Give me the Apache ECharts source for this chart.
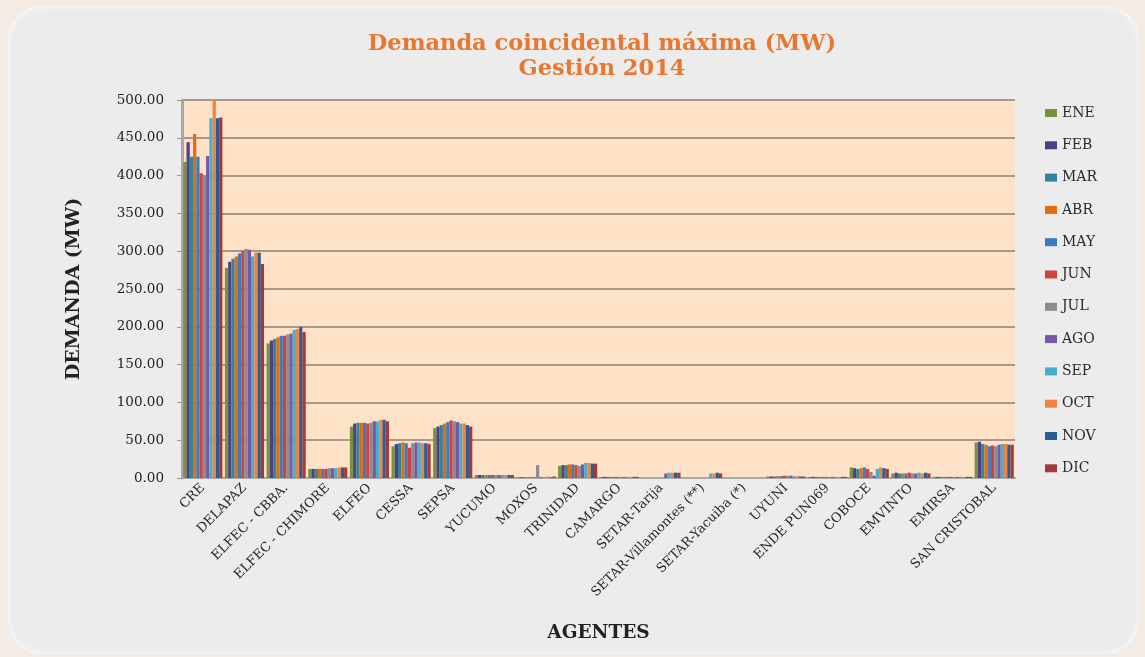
<!DOCTYPE html>
<html>
<head>
<meta charset="utf-8">
<script src="https://cdn.jsdelivr.net/npm/echarts@6/dist/echarts.min.js"></script>
<style>
    html, body { margin: 0; padding: 0; background: #f4ece4; }
    #card { position: absolute; left: 8px; top: 6px; width: 1131px; height: 648px;
        background: #ececec; border-radius: 34px; box-shadow: 0 0 6px #fff inset; }
    #chart { position: absolute; left: 0; top: 0; width: 1145px; height: 657px; }
</style>
</head>
<body>
<div id="card"></div>
<div id="chart"></div>
<script>
    const agentes = ['CRE', 'DELAPAZ', 'ELFEC - CBBA.', 'ELFEC - CHIMORE', 'ELFEO', 'CESSA', 'SEPSA',
        'YUCUMO', 'MOXOS', 'TRINIDAD', 'CAMARGO', 'SETAR-Tarija', 'SETAR-Villamontes (**)',
        'SETAR-Yacuiba (*)', 'UYUNI', 'ENDE PUN069', 'COBOCE', 'EMVINTO', 'EMIRSA', 'SAN CRISTOBAL'];
    const meses = ['ENE', 'FEB', 'MAR', 'ABR', 'MAY', 'JUN', 'JUL', 'AGO', 'SEP', 'OCT', 'NOV', 'DIC'];
    const colores = ['#77933c', '#4f3f86', '#31859c', '#e46c0a', '#3a7cc0', '#d2413f',
        '#8c8c8c', '#7658a6', '#45b0cc', '#f0843e', '#2a5d98', '#a3393a'];

    // demanda por agente, ENE..DIC (MW)
    const CRE = [418, 444, 425, 455, 425, 403, 400, 426, 476, 501, 476, 477];
    const DELAPAZ = [278, 286, 290, 293, 297, 300, 303, 302, 293, 298, 298, 283];
    const ELFEC_CBBA = [178, 182, 184, 186, 188, 188, 190, 191, 196, 197, 200, 193];
    const ELFEC_CHIMORE = [12, 12, 12, 12, 12, 12, 13, 13, 13, 14, 14, 14];
    const ELFEO = [68, 72, 73, 73, 73, 72, 73, 75, 75, 77, 77, 75];
    const CESSA = [42, 45, 46, 47, 46, 40, 46, 47, 47, 46, 46, 45];
    const SEPSA = [66, 68, 70, 72, 74, 76, 75, 74, 72, 72, 70, 68];
    const YUCUMO = [4, 4, 4, 4, 4, 4, 4, 4, 4, 4, 4, 4];
    const MOXOS = [1, 1, 1, 1, 1, 1, 17, 1, 1, 2, 1, 2];
    const TRINIDAD = [16, 17, 17, 18, 18, 17, 16, 18, 20, 20, 19, 19];
    const CAMARGO = [1.5, 1.5, 1.5, 1.5, 1.5, 1.5, 1.5, 1.5, 1.5, 1.5, 1.5, 1.5];
    const SETAR_TARIJA = [0, 0, 0, 0, 0, 0, 0, 6, 7, 7, 7, 7];
    const SETAR_VILLAMONTES = [0, 0, 0, 0, 0, 0, 0, 0, 6, 6, 7, 6];
    const SETAR_YACUIBA = [0, 0, 0, 0, 0, 0, 0, 0, 0, 0, 0, 0];
    const UYUNI = [2, 2, 2, 2.5, 2.5, 3, 3, 3, 2.5, 2.5, 2, 2];
    const ENDE_PUN069 = [1.5, 1.5, 1.5, 1.5, 1.5, 1.5, 1.5, 1.5, 1.5, 1.5, 1.5, 1.5];
    const COBOCE = [14, 13, 12, 13, 14, 12, 8, 3, 12, 14, 13, 12];
    const EMVINTO = [6, 7, 6, 6, 6, 7, 6, 6, 7, 6, 7, 6];
    const EMIRSA = [1.5, 1.5, 1.5, 1.5, 1.5, 1.5, 1.5, 1.5, 1.5, 1.5, 1.5, 1.5];
    const SAN_CRISTOBAL = [47, 48, 45, 44, 42, 43, 42, 44, 45, 45, 44, 44];

    const tabla = [CRE, DELAPAZ, ELFEC_CBBA, ELFEC_CHIMORE, ELFEO, CESSA, SEPSA, YUCUMO, MOXOS,
        TRINIDAD, CAMARGO, SETAR_TARIJA, SETAR_VILLAMONTES, SETAR_YACUIBA, UYUNI, ENDE_PUN069,
        COBOCE, EMVINTO, EMIRSA, SAN_CRISTOBAL];

    const serif = '"DejaVu Serif", "Liberation Serif", serif';

    let series = meses.map((m, i) => ({
        name: m,
        type: 'bar',
        barGap: '0%',
        barCategoryGap: '6%',
        itemStyle: { color: colores[i] },
        data: tabla.map(fila => fila[i])
    }));

    let chart = echarts.init(document.getElementById('chart'));
    chart.setOption({
        backgroundColor: 'transparent',
        animation: false,
        title: {
            text: 'Demanda coincidental máxima (MW)\nGestión 2014',
            left: 597,
            textAlign: 'center',
            top: 27,
            textStyle: { color: '#e8782f', fontFamily: serif, fontWeight: 'bold', fontSize: 22.5, lineHeight: 25 }
        },
        legend: {
            orient: 'vertical',
            left: 1040,
            top: 101,
            itemWidth: 12,
            itemHeight: 8,
            itemGap: 18.3,
            icon: 'rect',
            textStyle: { fontFamily: serif, fontSize: 14, color: '#2a2a2a' },
            data: meses
        },
        grid: {
            left: 182, right: 130, top: 100, bottom: 179,
            show: true, backgroundColor: '#fde2c8', borderWidth: 0
        },
        xAxis: {
            type: 'category',
            data: agentes,
            name: 'AGENTES',
            nameLocation: 'middle',
            nameGap: 146,
            nameTextStyle: { fontFamily: serif, fontWeight: 'bold', fontSize: 18.5, color: '#222' },
            axisLine: { lineStyle: { color: '#a9a9a9', width: 2 } },
            axisTick: { show: false },
            axisLabel: { rotate: 45, interval: 0, fontFamily: serif, fontSize: 13, color: '#2a2a2a', margin: 8 }
        },
        yAxis: {
            type: 'value',
            min: 0, max: 500, interval: 50,
            name: 'DEMANDA (MW)',
            nameLocation: 'middle',
            nameGap: 98,
            nameRotate: 90,
            nameTextStyle: { fontFamily: serif, fontWeight: 'bold', fontSize: 19, color: '#222' },
            axisLine: { show: true, lineStyle: { color: '#a9a9a9', width: 3 } },
            axisTick: { show: true, length: 5, lineStyle: { color: '#999' } },
            axisLabel: { fontFamily: serif, fontSize: 13.5, color: '#222', margin: 18, formatter: v => v.toFixed(2) },
            splitLine: { lineStyle: { color: '#8e7f74', width: 1.5 } }
        },
        series: series
    });
</script>
</body>
</html>
